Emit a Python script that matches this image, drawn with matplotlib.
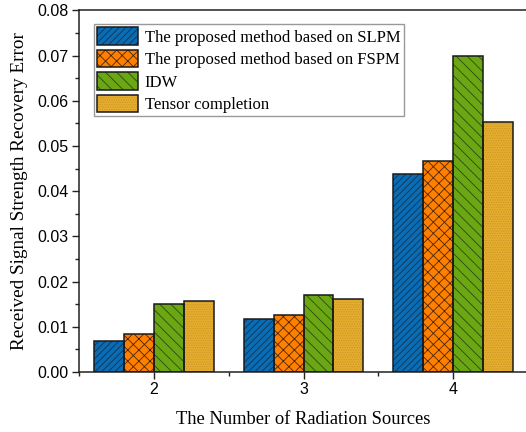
import numpy as np
import matplotlib.pyplot as plt
from matplotlib.ticker import MultipleLocator

# recovery error per number of radiation sources
sources = [2, 3, 4]
err_slpm = [0.0069, 0.0117, 0.0439]
err_fspm = [0.0083, 0.0127, 0.0466]
err_idw = [0.0150, 0.0171, 0.0699]
err_tensor = [0.0156, 0.0161, 0.0554]

labels = ['The proposed method based on SLPM',
          'The proposed method based on FSPM',
          'IDW',
          'Tensor completion']
colors = ['#0a6db3', '#ff8000', '#6ba614', '#e6ae30']
hatch_cols = ['#0d3358', '#4a2600', '#2c4a0a', '#c99620']
hatches = ['/////', 'xxx', '\\\\\\', '.......']

plt.rcParams['hatch.linewidth'] = 0.6

fig = plt.figure(figsize=(5.26, 4.32), dpi=100)
ax = fig.add_axes([0.150, 0.139, 0.854, 0.837])

x = np.array(sources, dtype=float)
w = 0.2
series = [err_slpm, err_fspm, err_idw, err_tensor]
handles = []
for i, vals in enumerate(series):
    pos = x + (i - 1.5) * w
    ax.bar(pos, vals, w, color=colors[i], hatch=hatches[i],
           edgecolor=hatch_cols[i], linewidth=0, zorder=2)
    ax.bar(pos, vals, w, fill=False, edgecolor='#1a1a1a', linewidth=1.1, zorder=3)
    h = plt.Rectangle((0, 0), 1, 1, facecolor=colors[i], hatch=hatches[i],
                      edgecolor=hatch_cols[i], linewidth=0)
    frame = plt.Rectangle((0, 0), 1, 1, fill=False, edgecolor='#1a1a1a', linewidth=1.1)
    handles.append((h, frame))

ax.set_xlim(1.5, 4.5)
ax.set_ylim(0, 0.08)
ax.set_xticks(sources)
ax.xaxis.set_minor_locator(MultipleLocator(0.5))
ax.yaxis.set_major_locator(MultipleLocator(0.01))
ax.yaxis.set_minor_locator(MultipleLocator(0.005))
ax.yaxis.set_major_formatter(plt.FormatStrFormatter('%.2f'))

for s in ax.spines.values():
    s.set_linewidth(1.1)
    s.set_color('#222222')
ax.tick_params(which='major', direction='out', length=5, width=1.0, pad=2.5,
               labelsize=11.5, colors='#222222', labelcolor='black')
ax.tick_params(which='minor', direction='out', length=3, width=1.0, colors='#222222')
for t in ax.get_xticklabels() + ax.get_yticklabels():
    t.set_fontfamily('Liberation Sans')

ax.set_xlabel('The Number of Radiation Sources', family='Liberation Serif',
              fontsize=13.3, labelpad=10)
ax.set_ylabel('Received Signal Strength Recovery Error', family='Liberation Serif',
              fontsize=13.8, labelpad=7)

leg = ax.legend(handles, labels, loc='upper left', bbox_to_anchor=(0.033, 0.962),
                borderaxespad=0, prop={'family': 'Liberation Serif', 'size': 12},
                handlelength=2.45, handleheight=1.25, handletextpad=0.4,
                labelspacing=0.24, borderpad=0.2, fancybox=False, framealpha=1)
leg.get_frame().set_edgecolor('#999999')
leg.get_frame().set_linewidth(1.0)

fig.savefig('out.png', dpi=100)
